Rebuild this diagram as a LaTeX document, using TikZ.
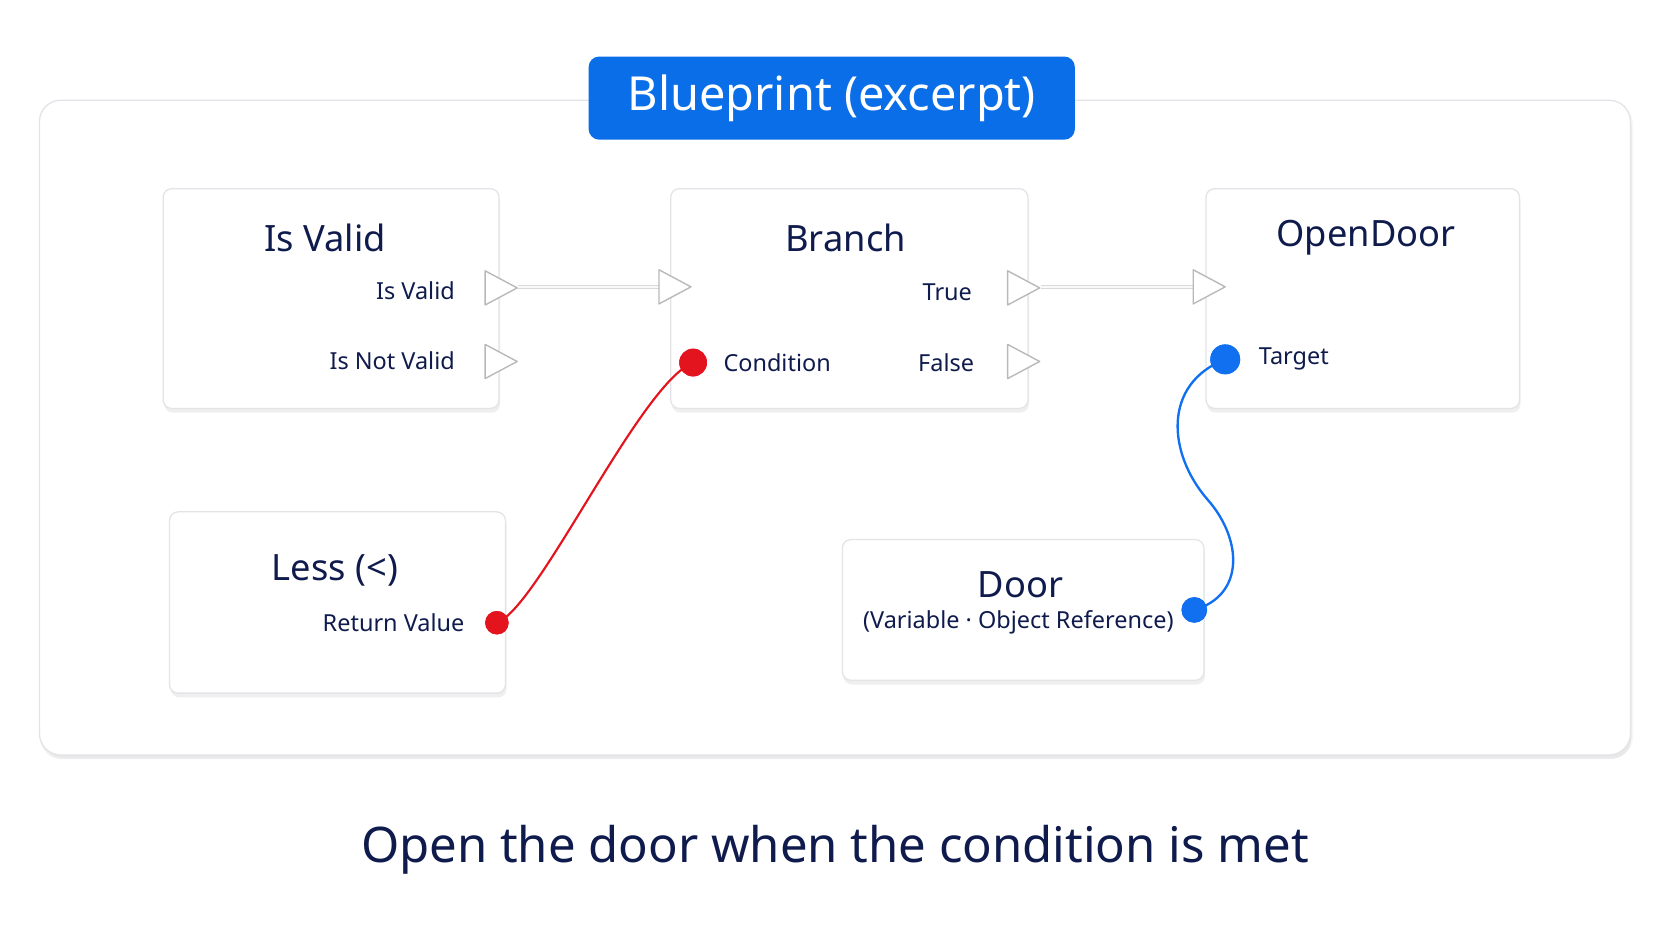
\documentclass[tikz,border=0pt]{standalone}
\usepackage{fontspec}
\setmainfont{Noto Sans}
\usetikzlibrary{shadows,positioning}
\definecolor{ink}{HTML}{0F1B4C}
\definecolor{bpblue}{HTML}{0A6EE8}
\definecolor{pinred}{HTML}{E3141E}
\definecolor{pinblue}{HTML}{1170F0}
\definecolor{frame}{HTML}{E2E4E8}
\tikzset{
  card/.style={draw=frame, line width=1.2pt, fill=white, rounded corners=8pt, drop shadow={shadow xshift=1pt, shadow yshift=-4pt, opacity=0.12}, inner sep=0},
  ttl/.style={font=\fontsize{34}{38}\selectfont\bfseries, text=ink},
  lbl/.style={font=\fontsize{22}{26}\selectfont, text=ink},
  exectri/.style={draw=gray!55, fill=white, line width=1.3pt, line join=round},
  pin/.style={circle, minimum size=26pt, inner sep=0},
}
\begin{document}
\begin{tikzpicture}[x=1pt,y=-1pt]
\useasboundingbox (0,0) rectangle (1568,882);
\fill[white!97!blue!40!white] (0,0) rectangle (1568,882);
\fill[white] (0,0) rectangle (1568,882);
% frame
\node[card, drop shadow={opacity=0.06}, minimum width=1492pt, minimum height=614pt, rounded corners=20pt] (frm) at (783,401) {};
\node[fill=bpblue, rounded corners=10pt, minimum width=456pt, minimum height=78pt, text=white, font=\fontsize{44}{48}\selectfont\bfseries] (badge) at (780,92) {Blueprint (excerpt)};
% cards
\node[card, minimum width=315pt, minimum height=206pt] (isv) at (310.5,280) {};
\node[card, minimum width=335pt, minimum height=206pt] (br) at (796.5,280) {};
\node[card, minimum width=294pt, minimum height=206pt] (od) at (1278,280) {};
\node[card, minimum width=315pt, minimum height=170pt] (less) at (316.5,565) {};
\node[card, minimum width=339pt, minimum height=132pt] (door) at (959.5,572) {};
% titles
\node[ttl] (tisv) at (305,223) {Is Valid};
\node[ttl] (tbr) at (793,223) {Branch};
\node[ttl] (tod) at (1281,223) {OpenDoor};
\node[ttl] (tless) at (314,535) {Less (<)};
\node[ttl] (tdoor) at (957,548) {Door};
\node[lbl] (sdoor) at (955,584) {(Variable · Object Reference)};
% labels
\node[lbl, anchor=east] (l1) at (430,273) {Is Valid};
\node[lbl, anchor=east] (l2) at (430,338) {Is Not Valid};
\node[lbl, anchor=east] (l3) at (915,274) {True};
\node[lbl, anchor=east] (l4) at (917,340) {False};
\node[lbl, anchor=west] (l5) at (675,340) {Condition};
\node[lbl, anchor=west] (l6) at (1177,337) {Target};
\node[lbl, anchor=east] (l7) at (439,584) {Return Value};
% exec wires
\coordinate (e1) at (486,269); \coordinate (e2) at (618,269);
\coordinate (e3) at (976,269); \coordinate (e4) at (1119,269);
\draw[gray!30, line width=4pt] (e1) -- (e2);
\draw[white!95!gray, line width=1.5pt] (e1) -- (e2);
\draw[gray!30, line width=4pt] (e3) -- (e4);
\draw[white!95!gray, line width=1.5pt] (e3) -- (e4);
% exec triangles
\foreach \x/\y/\n in {455/270/tA, 455/339/tB, 618/269/tC, 945/270/tD, 945/339/tE, 1119/269/tF}{
  \draw[exectri] (\x,\y-16) -- (\x+30,\y) -- (\x,\y+16) -- cycle;
  \coordinate (\n) at (\x,\y);
}
% pins
\node[pin, fill=pinred] (cond) at (650,340) {};
\node[pin, fill=pinred, minimum size=22pt] (ret) at (466,584) {};
\node[pin, fill=pinblue, minimum size=28pt] (tgt) at (1149,337) {};
\node[pin, fill=pinblue, minimum size=24pt] (dref) at (1120,572) {};
% data wires
\draw[pinred, line width=2pt] (ret.center) .. controls (505,570) and (600,360) .. (cond.center);
\draw[pinblue, line width=2.2pt] (dref.center) .. controls (1168,558) and (1165,505) .. (1132,468) .. controls (1095,425) and (1090,360) .. (tgt.center);
\node[pin, fill=pinred] at (650,340) {};
\node[pin, fill=pinred, minimum size=22pt] at (466,584) {};
\node[pin, fill=pinblue, minimum size=28pt] at (1149,337) {};
\node[pin, fill=pinblue, minimum size=24pt] at (1120,572) {};
% caption
\node[font=\fontsize{46}{50}\selectfont\bfseries, text=ink] (cap) at (783,797) {Open the door when the condition is met};
\end{tikzpicture}
\end{document}
